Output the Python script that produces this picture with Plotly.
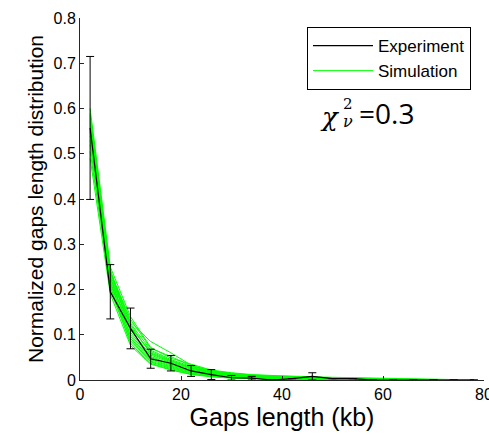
import plotly.graph_objects as go

# Gap length bins (kb)
gap_len = [2, 6, 10, 14, 18, 22, 26, 30, 34, 38, 42, 46, 50, 54, 58, 62, 66, 70, 74, 78]

# Measured distribution with its error bars
exp_mean = [0.557, 0.195, 0.114, 0.047, 0.037, 0.020, 0.012, 0.005, 0.004, 0.000,
            0.003, 0.008, 0.003, 0.003, 0.000, 0.000, 0.000, 0.000, 0.000, 0.000]
exp_err = [0.158, 0.060, 0.045, 0.021, 0.017, 0.012, 0.011, 0.005, 0.004, 0.000,
           0.000, 0.008, 0.000, 0.000, 0.000, 0.000, 0.000, 0.000, 0.000, 0.000]

# Simulated distributions
sim_01 = [0.600, 0.250, 0.140, 0.072, 0.048, 0.035, 0.022, 0.016, 0.012, 0.010, 0.008, 0.007, 0.006, 0.005, 0.004, 0.003, 0.002, 0.002, 0.001, 0.001]
sim_02 = [0.590, 0.240, 0.128, 0.085, 0.060, 0.033, 0.020, 0.014, 0.010, 0.008, 0.006, 0.005, 0.004, 0.003, 0.002, 0.002, 0.001, 0.001, 0.001, 0.000]
sim_03 = [0.585, 0.236, 0.125, 0.066, 0.045, 0.030, 0.019, 0.013, 0.010, 0.007, 0.006, 0.004, 0.003, 0.003, 0.002, 0.001, 0.001, 0.001, 0.000, 0.000]
sim_04 = [0.575, 0.232, 0.118, 0.060, 0.042, 0.028, 0.018, 0.012, 0.009, 0.007, 0.005, 0.004, 0.003, 0.002, 0.002, 0.001, 0.001, 0.000, 0.000, 0.000]
sim_05 = [0.570, 0.226, 0.122, 0.058, 0.040, 0.026, 0.016, 0.011, 0.008, 0.006, 0.005, 0.004, 0.003, 0.002, 0.001, 0.001, 0.001, 0.000, 0.000, 0.000]
sim_06 = [0.565, 0.222, 0.110, 0.055, 0.038, 0.024, 0.015, 0.010, 0.008, 0.006, 0.004, 0.003, 0.002, 0.002, 0.001, 0.001, 0.000, 0.000, 0.000, 0.000]
sim_07 = [0.560, 0.245, 0.105, 0.052, 0.035, 0.022, 0.014, 0.010, 0.007, 0.005, 0.004, 0.003, 0.002, 0.002, 0.001, 0.001, 0.000, 0.000, 0.000, 0.000]
sim_08 = [0.555, 0.212, 0.100, 0.050, 0.033, 0.021, 0.013, 0.009, 0.006, 0.005, 0.004, 0.003, 0.002, 0.001, 0.001, 0.000, 0.000, 0.000, 0.000, 0.000]
sim_09 = [0.548, 0.228, 0.096, 0.047, 0.031, 0.019, 0.012, 0.008, 0.006, 0.004, 0.003, 0.002, 0.002, 0.001, 0.001, 0.000, 0.000, 0.000, 0.000, 0.000]
sim_10 = [0.540, 0.204, 0.092, 0.045, 0.029, 0.018, 0.011, 0.007, 0.005, 0.004, 0.003, 0.002, 0.001, 0.001, 0.000, 0.000, 0.000, 0.000, 0.000, 0.000]
sim_11 = [0.530, 0.218, 0.088, 0.042, 0.027, 0.016, 0.010, 0.006, 0.005, 0.003, 0.002, 0.002, 0.001, 0.001, 0.000, 0.000, 0.000, 0.000, 0.000, 0.000]
sim_12 = [0.520, 0.198, 0.084, 0.040, 0.025, 0.015, 0.009, 0.006, 0.004, 0.003, 0.002, 0.001, 0.001, 0.000, 0.000, 0.000, 0.000, 0.000, 0.000, 0.000]
sim_13 = [0.505, 0.208, 0.080, 0.037, 0.023, 0.013, 0.008, 0.005, 0.004, 0.003, 0.002, 0.001, 0.001, 0.000, 0.000, 0.000, 0.000, 0.000, 0.000, 0.000]
sim_14 = [0.490, 0.190, 0.076, 0.035, 0.022, 0.012, 0.007, 0.004, 0.003, 0.002, 0.001, 0.001, 0.000, 0.000, 0.000, 0.000, 0.000, 0.000, 0.000, 0.000]
sim_15 = [0.580, 0.238, 0.134, 0.070, 0.052, 0.031, 0.021, 0.015, 0.011, 0.009, 0.007, 0.006, 0.005, 0.004, 0.003, 0.002, 0.002, 0.001, 0.001, 0.000]
sim_16 = [0.550, 0.215, 0.115, 0.063, 0.043, 0.027, 0.017, 0.012, 0.009, 0.007, 0.005, 0.004, 0.003, 0.002, 0.002, 0.001, 0.001, 0.000, 0.000, 0.000]

simulations = [sim_01, sim_02, sim_03, sim_04, sim_05, sim_06, sim_07, sim_08,
               sim_09, sim_10, sim_11, sim_12, sim_13, sim_14, sim_15, sim_16]

# Plot-area pixel geometry used for placing free text
W, H = 489, 436
ML, MR, MT, MB = 80, 5, 18, 56
PW, PH = W - ML - MR, H - MT - MB


def px(x):
    return (x - ML) / PW


def py(y):
    return (H - MB - y) / PH


fig = go.Figure()

for i, sim in enumerate(simulations):
    fig.add_trace(go.Scatter(
        x=gap_len, y=sim, mode="lines",
        line=dict(color="#00ff00", width=1),
        name="Simulation", legendgroup="sim", legendrank=2,
        showlegend=(i == 0), hoverinfo="skip",
    ))

fig.add_trace(go.Scatter(
    x=gap_len, y=exp_mean, mode="lines",
    line=dict(color="black", width=1.2),
    error_y=dict(type="data", array=exp_err, color="black", thickness=1, width=4),
    name="Experiment", legendrank=1,
))

axis_common = dict(
    showline=True, linecolor="#262626", linewidth=1, mirror=False,
    ticks="inside", ticklen=4, tickcolor="#262626",
    showgrid=False, zeroline=False, ticklabeloverflow="allow", automargin=False,
    tickfont=dict(family="Arial, Liberation Sans", size=16, color="black"),
)

fig.update_layout(
    width=W, height=H,
    margin=dict(l=ML, r=MR, t=MT, b=MB, autoexpand=False),
    paper_bgcolor="white", plot_bgcolor="white",
    xaxis=dict(range=[0, 80.001], tickvals=[0, 20, 40, 60, 80],
               ticktext=["0", "20", "40", "60", "80"],
               title=dict(text="Gaps length (kb)", standoff=6,
                          font=dict(family="Arial, Liberation Sans", size=25, color="black")),
               **axis_common),
    yaxis=dict(range=[0, 0.8], tickvals=[0, 0.1, 0.2, 0.3, 0.4, 0.5, 0.6, 0.7, 0.8],
               ticktext=["0", "0.1", "0.2", "0.3", "0.4", "0.5", "0.6", "0.7", "0.8"],
               title=dict(text="Normalized gaps length distribution", standoff=4,
                          font=dict(family="Arial, Liberation Sans", size=21, color="black")),
               **axis_common),
    legend=dict(x=px(307), y=py(27), xanchor="left", yanchor="top",
                bordercolor="black", borderwidth=1, bgcolor="white",
                font=dict(family="Arial, Liberation Sans", size=17, color="black"),
                itemwidth=60, tracegroupgap=0),
    showlegend=True,
)

# Reduced chi-square label: chi with stacked superscript 2 and subscript nu
fig.add_annotation(x=px(330), y=py(117), xref="paper", yref="paper",
                   text="<i>χ</i>", showarrow=False, xanchor="center", yanchor="middle",
                   font=dict(family="DejaVu Serif", size=26, color="black"))
fig.add_annotation(x=px(348), y=py(104), xref="paper", yref="paper",
                   text="2", showarrow=False, xanchor="center", yanchor="middle",
                   height=13, font=dict(family="DejaVu Serif", size=15, color="black"))
fig.add_annotation(x=px(348), y=py(121), xref="paper", yref="paper",
                   text="<i>ν</i>", showarrow=False, xanchor="center", yanchor="middle",
                   height=13, font=dict(family="DejaVu Serif", size=16, color="black"))
fig.add_annotation(x=px(357), y=py(113), xref="paper", yref="paper",
                   text="=0.3", showarrow=False, xanchor="left", yanchor="middle",
                   font=dict(family="Open Sans", size=28, color="black"))

fig.write_html("out.html")
